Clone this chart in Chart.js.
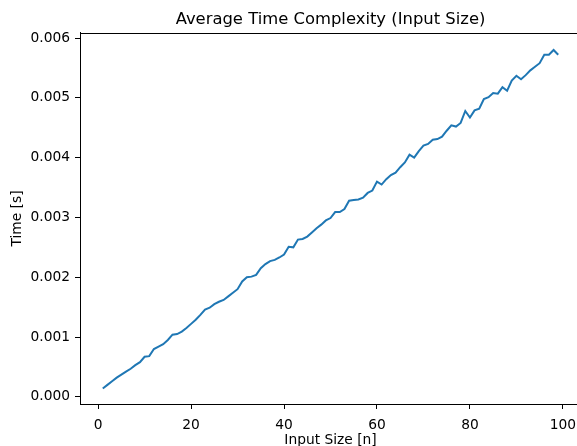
<!DOCTYPE html>
<html>
<head>
<meta charset="utf-8">
<script src="https://cdn.jsdelivr.net/npm/chart.js@4/dist/chart.umd.min.js"></script>
<style>
  html, body { margin: 0; padding: 0; overflow: hidden; background: #fff; }
  #wrap { width: 577px; height: 446px; overflow: hidden; }
</style>
</head>
<body>
<div id="wrap"><canvas id="lineChart" width="590" height="449"></canvas></div>
<script>
/* =========================
   DATA
========================= */
const inputSizes = [];
for (let n = 1; n <= 99; n++) inputSizes.push(n);

// seconds, one value per input size 1..99
const avgTimes = [
  0.00014, 0.00020, 0.00026, 0.00032, 0.00037, 0.00042, 0.00047, 0.00053, 0.00058, 0.00067,
  0.00068, 0.00080, 0.00084, 0.00088, 0.00095, 0.00104, 0.00105, 0.00109, 0.00115, 0.00122,
  0.00129, 0.00137, 0.00146, 0.00149, 0.00155, 0.00159, 0.00162, 0.00168, 0.00174, 0.00180,
  0.00193, 0.00200, 0.00201, 0.00204, 0.00215, 0.00222, 0.00227, 0.00229, 0.00233, 0.00238,
  0.00251, 0.00250, 0.00263, 0.00264, 0.00268, 0.00275, 0.00282, 0.00288, 0.00295, 0.00299,
  0.00309, 0.00309, 0.00314, 0.00328, 0.00329, 0.00330, 0.00333, 0.00341, 0.00345, 0.00360,
  0.00355, 0.00364, 0.00371, 0.00375, 0.00384, 0.00392, 0.00405, 0.00400, 0.00411, 0.00420,
  0.00423, 0.00430, 0.00431, 0.00435, 0.00445, 0.00454, 0.00452, 0.00458, 0.00478, 0.00467,
  0.00479, 0.00482, 0.00498, 0.00501, 0.00508, 0.00507, 0.00518, 0.00512, 0.00529, 0.00537,
  0.00531, 0.00538, 0.00546, 0.00552, 0.00558, 0.00572, 0.00572, 0.00580, 0.00572
];

const xTicks = [0, 20, 40, 60, 80, 100];
const yTicks = [0, 0.001, 0.002, 0.003, 0.004, 0.005, 0.006];

/* =========================
   FRAME – matplotlib style box round the axes
========================= */
const framePlugin = {
  id: "frame",
  afterDraw(chart) {
    const { ctx, chartArea: a } = chart;
    ctx.save();
    ctx.strokeStyle = "#000";
    ctx.lineWidth = 1;
    ctx.strokeRect(Math.round(a.left) + 0.5, Math.round(a.top) + 0.5,
      Math.round(a.right - a.left), Math.round(a.bottom - a.top));
    ctx.restore();
  }
};

const tickFont = { family: "DejaVu Sans", size: 13.8 };

const lineCtx = document.getElementById("lineChart");

if (lineCtx) {
  new Chart(lineCtx, {
    type: "line",
    data: {
      datasets: [
        {
          data: inputSizes.map((n, i) => ({ x: n, y: avgTimes[i] })),
          borderColor: "#1f77b4",
          borderWidth: 2,
          pointRadius: 0,
          tension: 0,
          fill: false
        }
      ]
    },
    options: {
      responsive: false,
      animation: false,
      devicePixelRatio: 1,
      layout: { padding: { top: 0, right: 9, left: 0, bottom: 0 } },
      plugins: {
        legend: { display: false },
        tooltip: { enabled: false },
        title: {
          display: true,
          fullSize: false,
          text: "Average Time Complexity (Input Size)",
          color: "#000",
          font: { family: "DejaVu Sans", size: 16.4, weight: "normal" },
          padding: { top: 10, bottom: 3.3 }
        }
      },
      scales: {
        x: {
          type: "linear",
          min: -3.9,
          max: 103.9,
          afterBuildTicks: (s) => { s.ticks = xTicks.map(v => ({ value: v })); },
          afterFit: (s) => { s.height = 45; },
          border: { display: true, color: "#000", width: 1 },
          grid: { drawOnChartArea: false, drawTicks: true, tickLength: 5, color: "#000" },
          ticks: { color: "#000", font: tickFont, padding: 8, maxRotation: 0,
                   callback: (v) => String(v) },
          title: { display: true, text: "Input Size [n]", color: "#000", font: tickFont,
                   padding: { top: 0, bottom: 0 } }
        },
        y: {
          min: -0.00012,
          max: 0.006085,
          afterBuildTicks: (s) => { s.ticks = yTicks.map(v => ({ value: v })); },
          afterFit: (s) => { s.width = 80; },
          border: { display: true, color: "#000", width: 1 },
          grid: { drawOnChartArea: false, drawTicks: true, tickLength: 5, color: "#000" },
          ticks: { color: "#000", font: tickFont, padding: 5,
                   callback: (v) => v.toFixed(3) },
          title: { display: true, text: "Time [s]", color: "#000", font: tickFont,
                   padding: { top: 9.5, bottom: 9.5 } }
        }
      }
    },
    plugins: [framePlugin]
  });
}
</script>
</body>
</html>
